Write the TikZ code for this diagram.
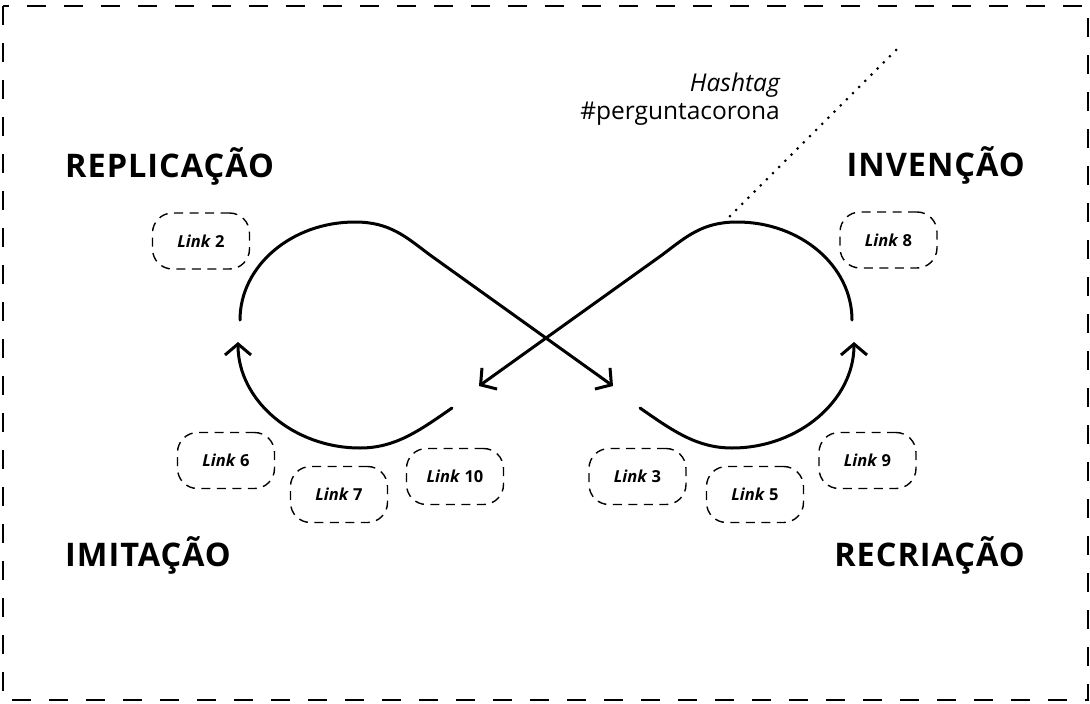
\documentclass[tikz,border=0pt]{standalone}
\usepackage{fontspec}
\setmainfont{Open Sans}
\usetikzlibrary{arrows.meta}
\tikzset{
  frame/.style={line width=1.6pt, dash pattern=on 19pt off 18pt},
  linkbox/.style={draw, line width=1.4pt, dash pattern=on 9pt off 6.5pt, rounded corners=20pt,
    minimum width=97pt, minimum height=56pt, inner sep=0pt,
    font=\bfseries\fontsize{16.5}{18}\selectfont},
  heading/.style={font=\bfseries\fontsize{32.5}{36}\selectfont\addfontfeatures{LetterSpace=3}, inner sep=0pt},
  curve/.style={line width=3pt, line cap=round},
  barb/.style={-{Straight Barb[length=11pt, width=26pt, line width=3pt]}},
  dotline/.style={line width=3pt, line cap=round, dash pattern=on 0pt off 8.7pt},
}
\begin{document}
\begin{tikzpicture}[x=1pt,y=-1pt]
\useasboundingbox (0,0) rectangle (1090,704);
\draw[frame, dash phase=0pt] (3,6) rectangle (1088,700);

% headings
\node[heading, anchor=base west] (rep) at (65,177) {REPLICAÇÃO};
\node[heading, anchor=base east] (inv) at (1025,176) {INVENÇÃO};
\node[heading, anchor=base west] (imi) at (65,566) {IMITAÇÃO};
\node[heading, anchor=base east] (rec) at (1025,566) {RECRIAÇÃO};

% hashtag
\node[anchor=base east, inner sep=0pt, font=\fontsize{24.5}{28}\selectfont] (hash) at (780,91) {\itshape Hashtag};
\node[anchor=base east, inner sep=0pt, font=\fontsize{24.5}{28}\selectfont] (tag) at (780,119) {\#perguntacorona};

% link boxes
\node[linkbox] (l2) at (201,241) {\itshape Link\/ \upshape 2};
\node[linkbox] (l8) at (888.5,240) {\itshape Link\/ \upshape 8};
\node[linkbox] (l6) at (226,460.5) {\itshape Link\/ \upshape 6};
\node[linkbox] (l7) at (339,494.5) {\itshape Link\/ \upshape 7};
\node[linkbox] (l10) at (455,476.5) {\itshape Link\/ \upshape 10};
\node[linkbox] (l3) at (637.5,476.5) {\itshape Link\/ \upshape 3};
\node[linkbox] (l5) at (755,494.5) {\itshape Link\/ \upshape 5};
\node[linkbox] (l9) at (867.5,460.5) {\itshape Link\/ \upshape 9};

% infinity coordinates
\coordinate (ls) at (240,320);
\coordinate (la) at (613,386);
\coordinate (rs) at (852,320);
\coordinate (ra) at (479,386);
\coordinate (lbs) at (452,408);
\coordinate (lbt) at (238,342);
\coordinate (rbs) at (640,408);
\coordinate (rbt) at (854,342);
\coordinate (dtop) at (896,50);
\coordinate (dbot) at (726,220);

% upper loops
\draw[curve, barb] (ls) .. controls (240,266) and (291.5,222) .. (355,222)
  .. controls (390,222) and (406,237) .. (430,255) -- (la);
\draw[curve, barb] (rs) .. controls (852,266) and (800.5,222) .. (737,222)
  .. controls (702,222) and (686,237) .. (662,255) -- (ra);
% lower arcs
\draw[curve, barb] (lbs) .. controls (419,431) and (395,448) .. (360,448)
  .. controls (293,448) and (238,400) .. (lbt);
\draw[curve, barb] (rbs) .. controls (673,431) and (697,448) .. (732,448)
  .. controls (799,448) and (854,400) .. (rbt);

% dotted pointer
\draw[dotline] (dtop) -- (dbot);
\end{tikzpicture}
\end{document}
